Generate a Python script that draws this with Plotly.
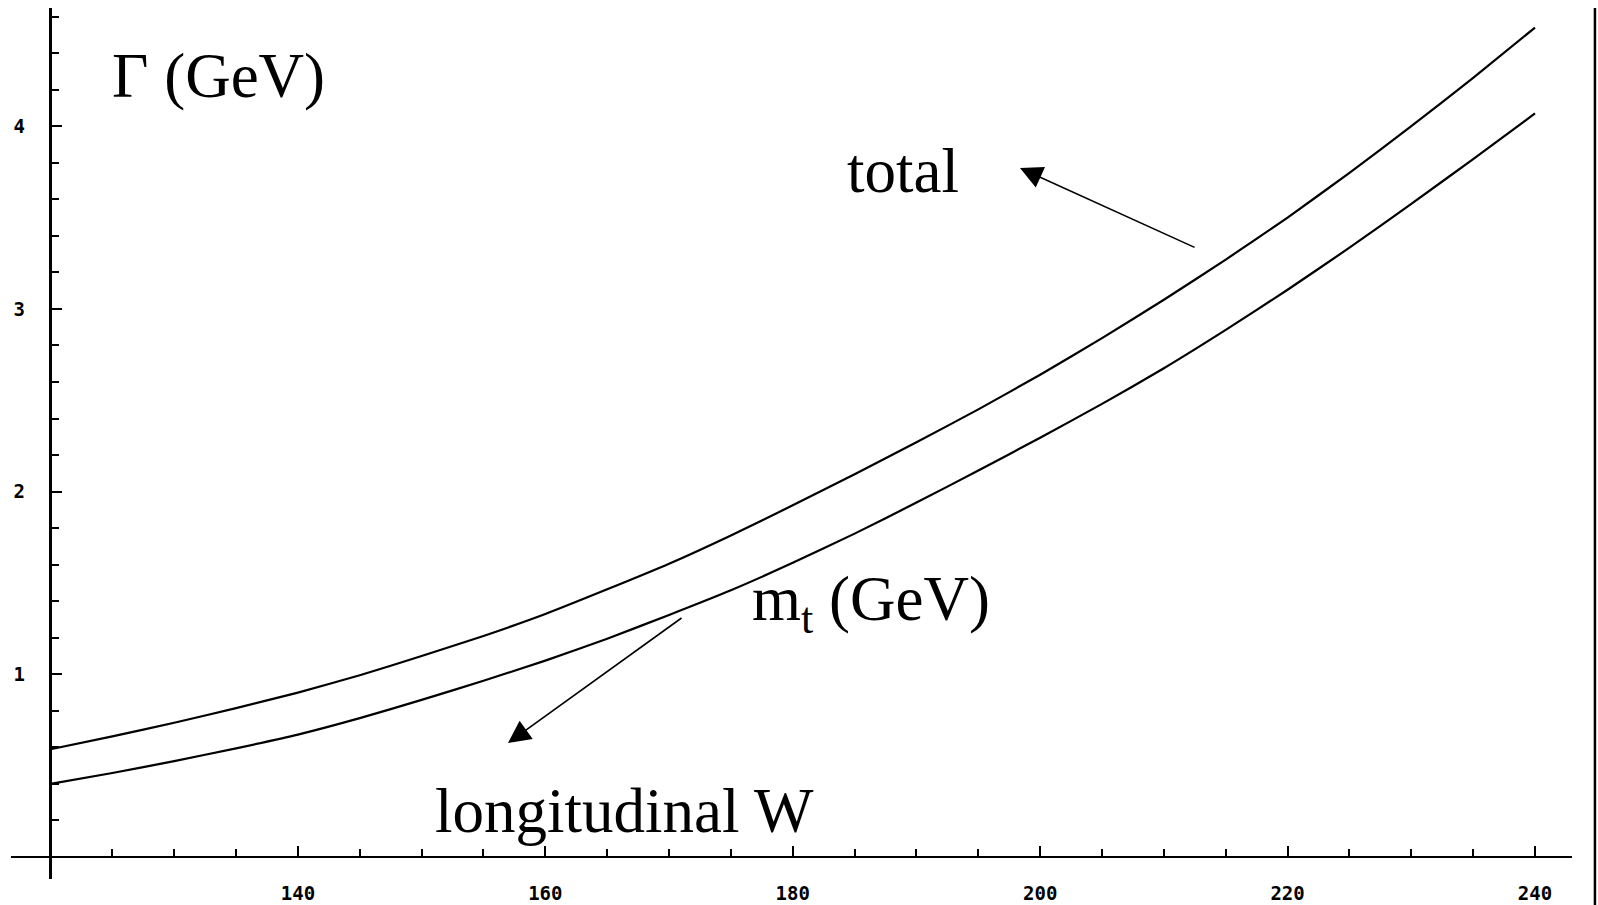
import plotly.graph_objects as go

# ---- data ----
mt = [120, 125, 130, 135, 140, 145, 150, 155, 160, 165, 170, 175, 180,
      185, 190, 195, 200, 205, 210, 215, 220, 225, 230, 235, 240]
gamma_total = [0.59, 0.66, 0.735, 0.815, 0.90, 0.995, 1.10, 1.21, 1.33, 1.465, 1.605, 1.76, 1.925,
               2.095, 2.27, 2.45, 2.64, 2.84, 3.05, 3.27, 3.50, 3.745, 4.00, 4.265, 4.54]
gamma_long = [0.40, 0.46, 0.525, 0.595, 0.67, 0.76, 0.86, 0.965, 1.075, 1.195, 1.325, 1.46, 1.61,
              1.77, 1.94, 2.115, 2.295, 2.48, 2.675, 2.885, 3.105, 3.335, 3.575, 3.82, 4.07]

x_ticks = [140, 160, 180, 200, 220, 240]
y_ticks = [1, 2, 3, 4]

fig = go.Figure()
fig.add_trace(go.Scatter(x=mt, y=gamma_total, mode="lines",
                         line=dict(color="black", width=2.2, shape="spline", smoothing=0.5),
                         name="total"))
fig.add_trace(go.Scatter(x=mt, y=gamma_long, mode="lines",
                         line=dict(color="black", width=2.2, shape="spline", smoothing=0.5),
                         name="longitudinal W"))

tickfont = dict(family="DejaVu Sans Mono", size=19, color="black", weight="bold")

fig.update_layout(
    width=1598, height=905,
    margin=dict(l=11, r=26, t=8, b=26),
    paper_bgcolor="white", plot_bgcolor="white",
    showlegend=False,
    xaxis=dict(range=[116.807, 242.99], showgrid=False, zeroline=False,
               anchor="free", position=0.02526,
               showline=True, linecolor="black", linewidth=2,
               tickvals=x_ticks, ticks="inside", ticklen=10, tickwidth=2, tickcolor="black",
               minor=dict(dtick=5, tick0=120, ticks="inside", ticklen=7, tickwidth=2, tickcolor="black"),
               tickfont=tickfont, ticklabelstandoff=19, automargin=False),
    yaxis=dict(range=[-0.1204, 4.647], showgrid=False, zeroline=False,
               anchor="free", position=0.0253,
               showline=True, linecolor="black", linewidth=2.5,
               tickvals=y_ticks, ticks="inside", ticklen=10, tickwidth=2, tickcolor="black",
               minor=dict(dtick=0.2, tick0=0, ticks="inside", ticklen=7, tickwidth=2, tickcolor="black"),
               tickfont=tickfont, ticklabelstandoff=21, automargin=False),
)

serif = dict(family="Liberation Serif", size=63, color="black")
fig.add_annotation(x=133.54, y=4.275, xref="x", yref="y", text="Γ (GeV)",
                   showarrow=False, font=serif, xanchor="center", yanchor="middle")
fig.add_annotation(x=188.91, y=3.755, xref="x", yref="y", text="total",
                   showarrow=False, font=serif, xanchor="center", yanchor="middle")
fig.add_annotation(x=186.33, y=1.385, xref="x", yref="y", text="m<sub>t</sub> (GeV)",
                   showarrow=False, font=serif, xanchor="center", yanchor="middle")
fig.add_annotation(x=166.36, y=0.252, xref="x", yref="y", text="longitudinal W",
                   showarrow=False, font=serif, xanchor="center", yanchor="middle")

# arrows
fig.add_annotation(x=198.37, y=3.771, ax=212.60, ay=3.333, xref="x", yref="y",
                   axref="x", ayref="y", text="", showarrow=True,
                   arrowhead=2, arrowsize=2.8, arrowwidth=1.6, arrowcolor="black")
fig.add_annotation(x=156.98, y=0.624, ax=171.13, ay=1.314, xref="x", yref="y",
                   axref="x", ayref="y", text="", showarrow=True,
                   arrowhead=2, arrowsize=2.8, arrowwidth=1.6, arrowcolor="black")

# right frame edge line
fig.add_shape(type="line", xref="paper", yref="paper", x0=1.0147, x1=1.0147, y0=1.0, y1=-0.03,
              line=dict(color="black", width=2.5))

fig.write_html("out.html")
